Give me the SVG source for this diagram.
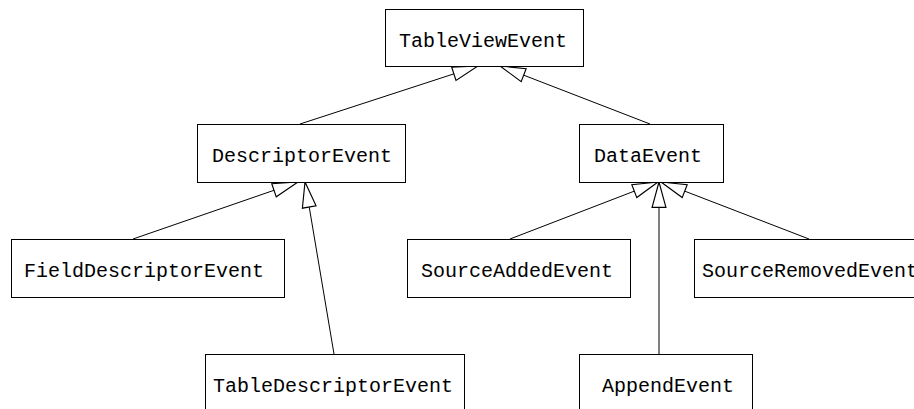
<svg xmlns="http://www.w3.org/2000/svg" width="914" height="409" viewBox="0 0 914 409">
<style>
.box{fill:#fff;stroke:#000;stroke-width:1}
.lbl{font-family:"Liberation Mono","Courier New",monospace;font-size:20px;fill:#000}
.edge{fill:none;stroke:#000;stroke-width:1;marker-end:url(#tri)}
</style>
<defs>
<marker id="tri" markerUnits="userSpaceOnUse" markerWidth="30" markerHeight="20" viewBox="-24 -8 26 16" refX="0" refY="0" orient="auto">
<path d="M0,0 L-22,-6 L-22,6 Z" fill="#fff" stroke="#000" stroke-width="1"/>
</marker>
</defs>
<rect width="914" height="409" fill="#fff"/>
<g id="connectors">
<path class="edge" d="M300,124 L478,66"/>
<path class="edge" d="M650,124 L500,66"/>
<path class="edge" d="M133,239 L298,182"/>
<path class="edge" d="M334,354 L305,182"/>
<path class="edge" d="M510,239 L658,182"/>
<path class="edge" d="M659,354 L659,182"/>
<path class="edge" d="M809,239 L661,182"/>
</g>
<g id="TableViewEvent"><rect class="box" x="385.5" y="9.5" width="198" height="57"/><text class="lbl" x="399" y="46.5">TableViewEvent</text></g>
<g id="DescriptorEvent"><rect class="box" x="197.5" y="124.5" width="208" height="58"/><text class="lbl" x="212" y="161.5">DescriptorEvent</text></g>
<g id="DataEvent"><rect class="box" x="579.5" y="124.5" width="144" height="58"/><text class="lbl" x="594" y="161.5">DataEvent</text></g>
<g id="FieldDescriptorEvent"><rect class="box" x="11.5" y="239.5" width="273" height="58"/><text class="lbl" x="24" y="276.5">FieldDescriptorEvent</text></g>
<g id="SourceAddedEvent"><rect class="box" x="407.5" y="239.5" width="223" height="58"/><text class="lbl" x="421" y="276.5">SourceAddedEvent</text></g>
<g id="SourceRemovedEvent"><rect class="box" x="694.5" y="239.5" width="240" height="58"/><text class="lbl" x="702" y="276.5">SourceRemovedEvent</text></g>
<g id="TableDescriptorEvent"><rect class="box" x="205.5" y="354.5" width="259" height="60"/><text class="lbl" x="213" y="391.5">TableDescriptorEvent</text></g>
<g id="AppendEvent"><rect class="box" x="579.5" y="354.5" width="173" height="60"/><text class="lbl" x="602" y="391.5">AppendEvent</text></g>
</svg>
